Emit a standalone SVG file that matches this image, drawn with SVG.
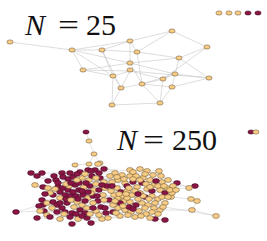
<svg xmlns="http://www.w3.org/2000/svg" xmlns:xlink="http://www.w3.org/1999/xlink" width="267" height="241" viewBox="0 0 267 241">
<defs>
<style>
.lbl{font-family:"Liberation Serif","DejaVu Serif",serif;font-size:30px;fill:#111}
.it{font-style:italic}
.e1{fill:none;stroke:#c6c6c6;stroke-width:0.6}
.e2{fill:none;stroke:#c2c2c2;stroke-width:0.45}
</style>
<ellipse id="t" cx="0" cy="0" rx="3.1" ry="2.1" fill="#f8cc84" stroke="#5e4b2c" stroke-width="0.5"/>
<ellipse id="m" cx="0" cy="0" rx="3.1" ry="2.1" fill="#8a1645" stroke="#3a0c1e" stroke-width="0.5"/>
<ellipse id="T" cx="0" cy="0" rx="3.4" ry="2.4" fill="#f8cc84" stroke="#5e4b2c" stroke-width="0.5"/>
<ellipse id="M" cx="0" cy="0" rx="3.4" ry="2.4" fill="#8a1645" stroke="#3a0c1e" stroke-width="0.5"/>
</defs>
<rect width="267" height="241" fill="#ffffff"/>

<g id="label-25">
<text class="lbl it" x="25" y="35">N</text>
<text class="lbl" x="58" y="35" textLength="21" lengthAdjust="spacingAndGlyphs">=</text>
<text class="lbl" x="86" y="35">25</text>
</g>
<g id="label-250">
<text class="lbl it" x="117" y="150">N</text>
<text class="lbl" x="143" y="150" textLength="21" lengthAdjust="spacingAndGlyphs">=</text>
<text class="lbl" x="172" y="150">250</text>
</g>

<g id="connectors-25" class="e1">
<path d="M10,42L72,50 M72,50L102,50 M72,50L130,41 M72,50L83,70 M72,50L113,76 M72,50L130,63 M102,50L130,41 M102,50L137,52 M102,50L113,76 M102,50L121,88 M130,41L172,31 M130,41L137,52 M130,41L130,63 M137,52L142,84 M172,31L137,52 M172,31L207,47 M207,47L179,58 M207,47L163,79 M179,58L130,63 M179,58L172,87 M179,58L209,78 M179,58L137,52 M83,70L130,63 M83,70L113,76 M83,70L130,71 M130,63L142,84 M130,63L175,74 M130,71L163,79 M130,71L113,76 M130,71L209,78 M113,76L121,88 M113,76L112,105 M121,88L142,84 M121,88L112,105 M121,88L130,71 M142,84L163,79 M142,84L175,74 M142,84L172,87 M163,79L175,74 M163,79L160,103 M175,74L209,78 M172,87L209,78 M172,87L160,103 M112,105L160,103 M142,84L160,103"/>
</g>

<g id="nodes-25">
<g id="n1"><use href="#t" x="10" y="42"/></g>
<g id="n2"><use href="#t" x="72" y="50"/></g>
<g id="n3"><use href="#t" x="102" y="50"/></g>
<g id="n4"><use href="#t" x="130" y="41"/></g>
<g id="n5"><use href="#t" x="137" y="52"/></g>
<g id="n6"><use href="#t" x="130" y="63"/></g>
<g id="n7"><use href="#t" x="83" y="70"/></g>
<g id="n8"><use href="#t" x="113" y="76"/></g>
<g id="n9"><use href="#t" x="130" y="70"/></g>
<g id="n10"><use href="#t" x="121" y="88"/></g>
<g id="n11"><use href="#t" x="142" y="84"/></g>
<g id="n12"><use href="#t" x="112" y="105"/></g>
<g id="n13"><use href="#t" x="172" y="31"/></g>
<g id="n14"><use href="#t" x="207" y="47"/></g>
<g id="n15"><use href="#t" x="179" y="58"/></g>
<g id="n16"><use href="#t" x="175" y="74"/></g>
<g id="n17"><use href="#t" x="163" y="79"/></g>
<g id="n18"><use href="#t" x="209" y="78"/></g>
<g id="n19"><use href="#t" x="172" y="87"/></g>
<g id="n20"><use href="#t" x="160" y="103"/></g>
<g id="n21"><use href="#t" x="219" y="13"/></g>
<g id="n22"><use href="#t" x="229" y="13"/></g>
<g id="n23"><use href="#t" x="238" y="13"/></g>
<g id="n24"><use href="#m" x="248" y="13"/></g>
<g id="n25"><use href="#m" x="258" y="13"/></g>
</g>

<g id="connectors-250" class="e2">
<path d="M86,132L89,141 M89,141L94,154 M94,154L100,163 M94,154L89,164 M100,163L104,169 M89,164L88,170 M75,165L80,172 M75,165L89,164 M100,163L115,173 M31,173L37,176 M37,176L42,173 M42,173L62,173 M37,176L56,180 M31,173L48,181 M35,185L43,187 M43,187L58,187 M35,185L53,195 M48,188L60,192 M16,212L44,211 M16,212L47,203 M37,218L60,219 M37,218L47,215 M60,219L72,213 M72,224L70,217 M72,224L87,218 M91,223L102,219 M91,223L80,210 M102,219L113,212 M102,219L120,216 M159,171L143,178 M159,171L168,180 M159,171L130,170 M177,183L189,188 M189,188L195,186 M177,183L168,180 M171,197L191,199 M191,199L197,201 M171,197L165,203 M192,210L160,210 M192,210L197,201 M216,216L142,203 M216,216L192,210 M155,219L165,220 M155,219L146,214 M165,220L150,218 M195,186L173,186 M189,188L160,190 M251,132L256,132"/>
<path d="M62,173L73,177 M63,177L80,183 M56,180L66,184 M68,179L82,178 M73,177L89,180 M80,172L95,170 M88,170L104,169 M95,170L110,176 M104,169L118,170 M58,187L75,185 M63,188L79,190 M68,190L84,187 M69,186L90,186 M60,192L76,196 M65,195L83,195 M70,196L88,198 M53,195L67,203 M50,193L60,198 M42,200L53,202 M43,205L57,205 M47,203L62,208 M44,211L65,212 M53,202L74,207 M57,205L77,202 M62,208L82,205 M65,212L87,208 M72,213L90,214 M70,217L96,211 M52,208L70,217 M80,210L101,207 M85,213L106,213 M87,218L108,218 M75,185L94,190 M79,190L99,190 M84,187L104,182 M90,186L107,186 M94,190L111,191 M76,196L93,196 M83,195L103,195 M88,198L109,200 M93,196L113,205 M96,184L112,182 M100,178L118,180 M104,182L125,183 M99,190L117,188 M103,195L118,198 M98,201L124,201 M93,203L118,208 M101,207L125,210 M96,211L120,216 M106,213L131,212 M110,176L122,175 M107,186L127,186 M111,191L127,191 M109,200L132,195 M113,205L130,202 M113,212L129,207 M108,218L135,217"/>
<path d="M115,173L125,183 M122,175L133,182 M130,170L137,187 M130,176L142,183 M143,178L147,189 M153,175L154,185 M136,176L150,180 M140,169L147,171 M147,171L161,176 M118,180L121,192 M125,183L132,195 M137,187L140,193 M147,189L152,196 M154,185L160,190 M162,182L167,188 M168,180L173,186 M160,190L165,193 M167,188L172,193 M117,188L124,201 M121,192L136,205 M127,191L142,203 M132,195L148,205 M140,193L154,208 M145,197L158,199 M152,196L165,203 M158,199L160,210 M118,198L125,210 M124,201L131,212 M130,202L139,211 M136,205L146,214 M142,203L154,208 M148,205L160,210 M118,208L120,216 M125,210L135,217 M139,211L150,218 M127,186L137,187 M150,180L162,182 M112,182L117,188 M123,196L129,207 M165,193L172,193 M114,195L123,196 M105,188L114,195 M161,176L168,180 M62,173L100,178 M48,181L90,186 M42,200L88,198 M53,195L99,190 M66,184L118,180 M79,183L136,176 M85,174L130,170 M92,176L143,178 M110,176L153,175 M88,198L140,193 M96,211L146,214 M74,207L125,210 M98,201L152,196 M107,186L160,190 M111,191L165,193 M109,200L158,199 M56,180L104,182 M60,192L103,195 M47,215L108,218 M113,205L165,203 M82,205L130,202"/>
<path d="M58,183L71,183 M77,180L86,183 M82,191L73,192 M66,199L78,199 M85,201L97,196 M60,203L64,214 M76,214L82,216 M93,208L99,215 M57,212L50,217 M55,189L45,194 M39,206L40,211 M54,176L70,173 M77,174L91,171 M88,192L102,185 M96,178L99,173 M104,200L105,208 M117,177L124,179 M133,179L140,180 M146,184L156,181 M158,186L164,186 M170,190L176,190 M129,188L135,191 M143,196L149,199 M155,203L162,197 M120,203L127,198 M138,199L145,208 M152,212L158,214 M116,213L123,206 M133,209L141,216 M128,215L116,213 M115,201L119,194 M112,186L126,194 M168,197L163,207 M133,172L145,174 M138,194L150,187 M71,200L91,193 M58,183L96,178 M124,179L163,207 M40,211L76,214"/>
</g>

<g id="nodes-250">
<use href="#m" x="86" y="132"/><use href="#t" x="89" y="141"/><use href="#t" x="94" y="154"/><use href="#t" x="100" y="163"/><use href="#t" x="89" y="164"/><use href="#t" x="75" y="165"/>
<use href="#M" x="31" y="173"/><use href="#M" x="37" y="176"/><use href="#M" x="42" y="173"/><use href="#T" x="35" y="185"/><use href="#M" x="43" y="187"/><use href="#T" x="48" y="188"/>
<use href="#M" x="16" y="212"/><use href="#M" x="37" y="218"/><use href="#T" x="60" y="219"/><use href="#M" x="72" y="224"/><use href="#M" x="91" y="223"/><use href="#T" x="102" y="219"/>
<use href="#T" x="159" y="171"/><use href="#M" x="177" y="183"/><use href="#M" x="195" y="186"/><use href="#T" x="189" y="188"/><use href="#T" x="171" y="197"/><use href="#T" x="191" y="199"/><use href="#T" x="197" y="201"/><use href="#T" x="192" y="210"/><use href="#T" x="216" y="216"/><use href="#M" x="155" y="219"/><use href="#M" x="165" y="220"/>
<use href="#m" x="251" y="132"/><use href="#t" x="256" y="132"/>
<use href="#M" x="62" y="173"/><use href="#T" x="115" y="173"/><use href="#M" x="63" y="177"/><use href="#T" x="122" y="175"/><use href="#M" x="56" y="180"/><use href="#T" x="130" y="170"/><use href="#M" x="68" y="179"/><use href="#T" x="130" y="176"/><use href="#M" x="73" y="177"/><use href="#T" x="143" y="178"/><use href="#T" x="82" y="178"/><use href="#T" x="153" y="175"/><use href="#T" x="89" y="180"/><use href="#M" x="133" y="182"/><use href="#M" x="80" y="172"/><use href="#M" x="142" y="183"/><use href="#M" x="95" y="170"/><use href="#T" x="118" y="180"/><use href="#M" x="88" y="170"/><use href="#T" x="125" y="183"/><use href="#M" x="104" y="169"/><use href="#T" x="137" y="187"/><use href="#T" x="98" y="164"/><use href="#T" x="147" y="189"/>
<use href="#M" x="58" y="187"/><use href="#T" x="154" y="185"/><use href="#M" x="63" y="188"/><use href="#T" x="162" y="182"/><use href="#M" x="68" y="190"/><use href="#T" x="168" y="180"/><use href="#T" x="69" y="186"/><use href="#T" x="160" y="190"/><use href="#M" x="60" y="192"/><use href="#T" x="167" y="188"/><use href="#M" x="65" y="195"/><use href="#T" x="173" y="186"/><use href="#M" x="70" y="196"/><use href="#T" x="117" y="188"/><use href="#M" x="53" y="195"/><use href="#M" x="121" y="192"/><use href="#T" x="50" y="193"/><use href="#T" x="127" y="191"/><use href="#M" x="42" y="200"/><use href="#T" x="132" y="195"/><use href="#M" x="43" y="205"/><use href="#T" x="140" y="193"/><use href="#T" x="47" y="203"/><use href="#M" x="145" y="197"/><use href="#M" x="44" y="211"/><use href="#T" x="152" y="196"/><use href="#T" x="47" y="215"/><use href="#T" x="158" y="199"/>
<use href="#M" x="53" y="202"/><use href="#T" x="165" y="203"/><use href="#M" x="57" y="205"/><use href="#T" x="118" y="198"/><use href="#M" x="62" y="208"/><use href="#T" x="124" y="201"/><use href="#M" x="65" y="212"/><use href="#T" x="130" y="202"/><use href="#M" x="72" y="213"/><use href="#M" x="136" y="205"/><use href="#M" x="70" y="217"/><use href="#T" x="142" y="203"/><use href="#T" x="52" y="208"/><use href="#T" x="148" y="205"/><use href="#T" x="77" y="202"/><use href="#T" x="154" y="208"/><use href="#T" x="82" y="205"/><use href="#T" x="160" y="210"/><use href="#T" x="87" y="208"/><use href="#T" x="118" y="208"/><use href="#M" x="80" y="210"/><use href="#T" x="125" y="210"/><use href="#M" x="85" y="213"/><use href="#T" x="131" y="212"/><use href="#M" x="87" y="218"/><use href="#T" x="139" y="211"/><use href="#T" x="90" y="214"/><use href="#T" x="146" y="214"/>
<use href="#M" x="75" y="185"/><use href="#T" x="120" y="216"/><use href="#M" x="79" y="190"/><use href="#T" x="135" y="217"/><use href="#T" x="84" y="187"/><use href="#T" x="150" y="218"/><use href="#M" x="90" y="186"/><use href="#M" x="127" y="186"/><use href="#T" x="94" y="190"/><use href="#T" x="150" y="180"/><use href="#M" x="76" y="196"/><use href="#T" x="136" y="176"/><use href="#M" x="83" y="195"/><use href="#T" x="112" y="182"/><use href="#T" x="88" y="198"/><use href="#T" x="123" y="196"/><use href="#M" x="93" y="196"/><use href="#M" x="165" y="193"/><use href="#T" x="96" y="184"/><use href="#T" x="172" y="193"/><use href="#M" x="100" y="178"/><use href="#T" x="114" y="195"/><use href="#T" x="104" y="182"/><use href="#M" x="129" y="207"/><use href="#M" x="99" y="190"/><use href="#T" x="105" y="188"/><use href="#T" x="103" y="195"/><use href="#T" x="161" y="176"/>
<use href="#M" x="98" y="201"/><use href="#T" x="140" y="169"/><use href="#T" x="93" y="203"/><use href="#T" x="147" y="171"/><use href="#M" x="101" y="207"/><use href="#M" x="152" y="191"/><use href="#T" x="96" y="211"/><use href="#M" x="106" y="213"/><use href="#T" x="74" y="207"/><use href="#M" x="67" y="203"/><use href="#T" x="60" y="198"/><use href="#M" x="48" y="181"/><use href="#T" x="66" y="184"/><use href="#M" x="79" y="183"/><use href="#T" x="85" y="174"/><use href="#M" x="92" y="176"/><use href="#T" x="110" y="176"/><use href="#M" x="107" y="186"/><use href="#T" x="111" y="191"/><use href="#M" x="109" y="200"/><use href="#T" x="113" y="205"/><use href="#T" x="108" y="218"/><use href="#M" x="113" y="212"/><use href="#T" x="78" y="219"/>
<use href="#M" x="58" y="183"/><use href="#T" x="117" y="177"/><use href="#M" x="71" y="183"/><use href="#T" x="124" y="179"/><use href="#T" x="77" y="180"/><use href="#T" x="133" y="179"/><use href="#M" x="86" y="183"/><use href="#T" x="140" y="180"/><use href="#M" x="82" y="191"/><use href="#T" x="146" y="184"/><use href="#M" x="73" y="192"/><use href="#M" x="156" y="181"/><use href="#M" x="66" y="199"/><use href="#T" x="158" y="186"/><use href="#T" x="71" y="200"/><use href="#T" x="164" y="186"/><use href="#M" x="78" y="199"/><use href="#T" x="170" y="190"/><use href="#M" x="85" y="201"/><use href="#T" x="129" y="188"/><use href="#T" x="91" y="193"/><use href="#T" x="135" y="191"/><use href="#M" x="97" y="196"/><use href="#T" x="143" y="196"/><use href="#M" x="60" y="203"/><use href="#T" x="149" y="199"/><use href="#T" x="64" y="214"/><use href="#T" x="155" y="203"/><use href="#M" x="76" y="214"/><use href="#T" x="162" y="197"/><use href="#M" x="82" y="216"/><use href="#M" x="120" y="203"/><use href="#M" x="93" y="208"/><use href="#T" x="127" y="198"/><use href="#T" x="99" y="215"/><use href="#T" x="138" y="199"/>
<use href="#M" x="57" y="212"/><use href="#T" x="145" y="208"/><use href="#M" x="50" y="217"/><use href="#T" x="152" y="212"/><use href="#T" x="55" y="189"/><use href="#T" x="158" y="214"/><use href="#M" x="45" y="194"/><use href="#T" x="116" y="213"/><use href="#M" x="39" y="206"/><use href="#T" x="123" y="206"/><use href="#T" x="40" y="211"/><use href="#M" x="133" y="209"/><use href="#M" x="54" y="176"/><use href="#T" x="141" y="216"/><use href="#M" x="88" y="192"/><use href="#T" x="128" y="215"/><use href="#M" x="102" y="185"/><use href="#T" x="115" y="201"/><use href="#T" x="96" y="178"/><use href="#M" x="112" y="186"/><use href="#M" x="91" y="171"/><use href="#T" x="119" y="194"/><use href="#M" x="70" y="173"/><use href="#T" x="126" y="194"/><use href="#M" x="77" y="174"/><use href="#T" x="168" y="197"/><use href="#T" x="104" y="200"/><use href="#T" x="163" y="207"/><use href="#M" x="105" y="208"/><use href="#T" x="176" y="190"/><use href="#M" x="99" y="173"/><use href="#T" x="133" y="172"/><use href="#T" x="145" y="174"/><use href="#M" x="138" y="194"/><use href="#T" x="150" y="187"/>
</g>
</svg>
